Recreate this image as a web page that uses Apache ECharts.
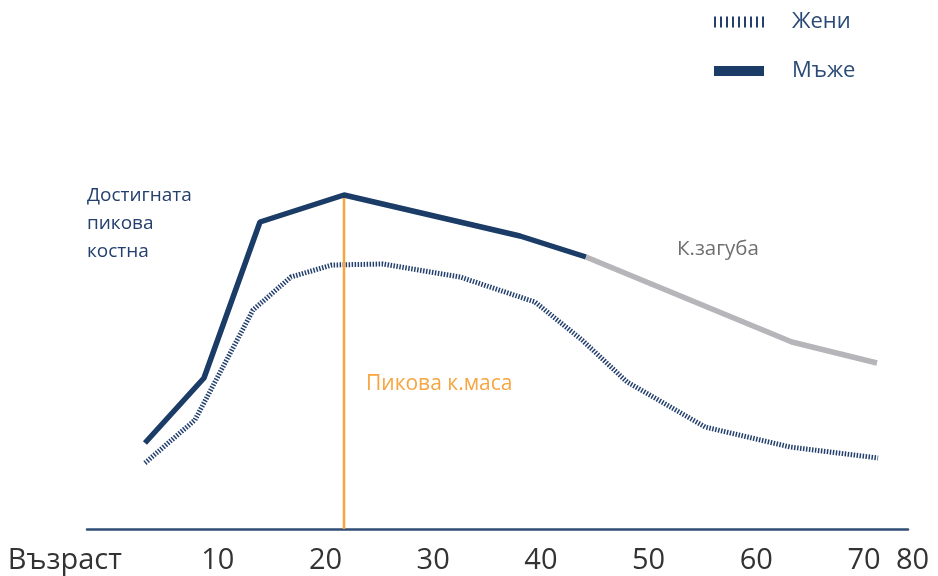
<!DOCTYPE html>
<html>
<head>
<meta charset="utf-8">
<script src="https://cdn.jsdelivr.net/npm/echarts@6/dist/echarts.min.js"></script>
<style>html,body{margin:0;padding:0;background:#fff}#c{width:938px;height:576px}</style>
</head>
<body>
<div id="c"></div>
<script>
// ages (x) and relative bone mass (y)
var menAges = [3.24, 8.72, 13.92, 21.72, 38.06, 44.19];
var menValues = [21.5, 37.75, 76.75, 83.5, 73.25, 68];
var lossAges = [44.19, 63.3, 71.2];
var lossValues = [68, 46.75, 41.5];
var womenAges = [3.24, 7.88, 13.27, 16.79, 20.6, 25.34, 32.49, 39.45, 43.82, 48.0, 55.24, 63.13, 71.3];
var womenValues = [16.5, 27.25, 54.75, 63, 66, 66.25, 63, 56.75, 47.25, 36.75, 25.5, 20.5, 17.75];
var peakAge = 21.72;
var peakValue = 83.5;
var tickValues = [-4.2, 10, 20, 30, 40, 50, 60, 70, 74.5];
var tickLabels = ['Възраст', '10', '20', '30', '40', '50', '60', '70', '80'];

function pairs(xs, ys) { return xs.map(function (x, i) { return [x, ys[i]]; }); }

var chart = echarts.init(document.getElementById('c'));
var navy = '#1c3c68';
var font = '"Open Sans", "Noto Sans", sans-serif';
var barsIcon = 'path://' + [0,1,2,3,4,5,6,7,8].map(function (i) { return 'M' + (i * 6) + ' 0h2v11h-2z'; }).join(' ');

chart.setOption({
  animation: false,
  backgroundColor: '#ffffff',
  grid: [
    { left: 87, right: 30, top: 129, bottom: 47, outerBoundsMode: 'none' },
    { left: 0, right: 0, top: 129, bottom: 47, outerBoundsMode: 'none' }
  ],
  xAxis: [
    { type: 'value', gridIndex: 0, min: -2.14, max: 74.08,
      axisLine: { show: true, lineStyle: { color: '#2f4d77', width: 2.5 } },
      axisTick: { show: false }, axisLabel: { show: false }, splitLine: { show: false } },
    { type: 'value', gridIndex: 1, min: -10.22, max: 76.87,
      axisLine: { show: false }, axisTick: { show: false }, splitLine: { show: false },
      axisLabel: {
        show: true, customValues: tickValues, margin: 17,
        color: '#333333', fontSize: 29, fontFamily: font,
        formatter: function (v) {
          var best = 0;
          for (var i = 1; i < tickValues.length; i++) {
            if (Math.abs(tickValues[i] - v) < Math.abs(tickValues[best] - v)) best = i;
          }
          return tickLabels[best];
        }
      } }
  ],
  yAxis: [
    { type: 'value', gridIndex: 0, min: 0, max: 100, show: false },
    { type: 'value', gridIndex: 1, min: 0, max: 100, show: false }
  ],
  legend: [
    { data: [{ name: 'Жени', icon: barsIcon }], left: 714, top: 11, padding: 0, itemWidth: 50, itemHeight: 11,
      itemStyle: { borderWidth: 0 }, textStyle: { color: '#2b4a75', fontSize: 22, fontFamily: font, padding: [0, 0, 0, 23] } },
    { data: [{ name: 'Мъже', icon: 'rect' }], left: 714, top: 60, padding: 0, itemWidth: 50, itemHeight: 10,
      itemStyle: { borderWidth: 0 }, textStyle: { color: '#2b4a75', fontSize: 22, fontFamily: font, padding: [0, 0, 0, 23] } }
  ],
  series: [
    { name: 'Жени', type: 'line', xAxisIndex: 0, yAxisIndex: 0, data: pairs(womenAges, womenValues),
      symbol: 'none', color: '#24406e',
      lineStyle: { color: '#24406e', width: 5, type: [1.5, 1.5], cap: 'butt' }, z: 2 },
    { name: 'peak', type: 'line', xAxisIndex: 0, yAxisIndex: 0, data: [[peakAge, 0], [peakAge, peakValue]],
      symbol: 'none', lineStyle: { color: '#f8a53c', width: 2.5 }, z: 3 },
    { name: 'Мъже', type: 'line', xAxisIndex: 0, yAxisIndex: 0, data: pairs(menAges, menValues),
      symbol: 'none', color: navy, lineStyle: { color: navy, width: 5.5 }, z: 4 },
    { name: 'К.загуба', type: 'line', xAxisIndex: 0, yAxisIndex: 0, data: pairs(lossAges, lossValues),
      symbol: 'none', lineStyle: { color: '#b6b6ba', width: 5.5 }, z: 4 }
  ],
  graphic: [
    { type: 'text', left: 87, top: 182, style: { text: 'Достигната\nпикова\nкостна', fill: '#24406e', font: '19px ' + font, lineHeight: 28 } },
    { type: 'text', left: 677, top: 239, style: { text: 'К.загуба', fill: '#707070', font: '20.5px ' + font } },
    { type: 'text', left: 366, top: 374, style: { text: 'Пикова к.маса', fill: '#f7a541', font: '21px ' + font } }
  ]
});
</script>
</body>
</html>
